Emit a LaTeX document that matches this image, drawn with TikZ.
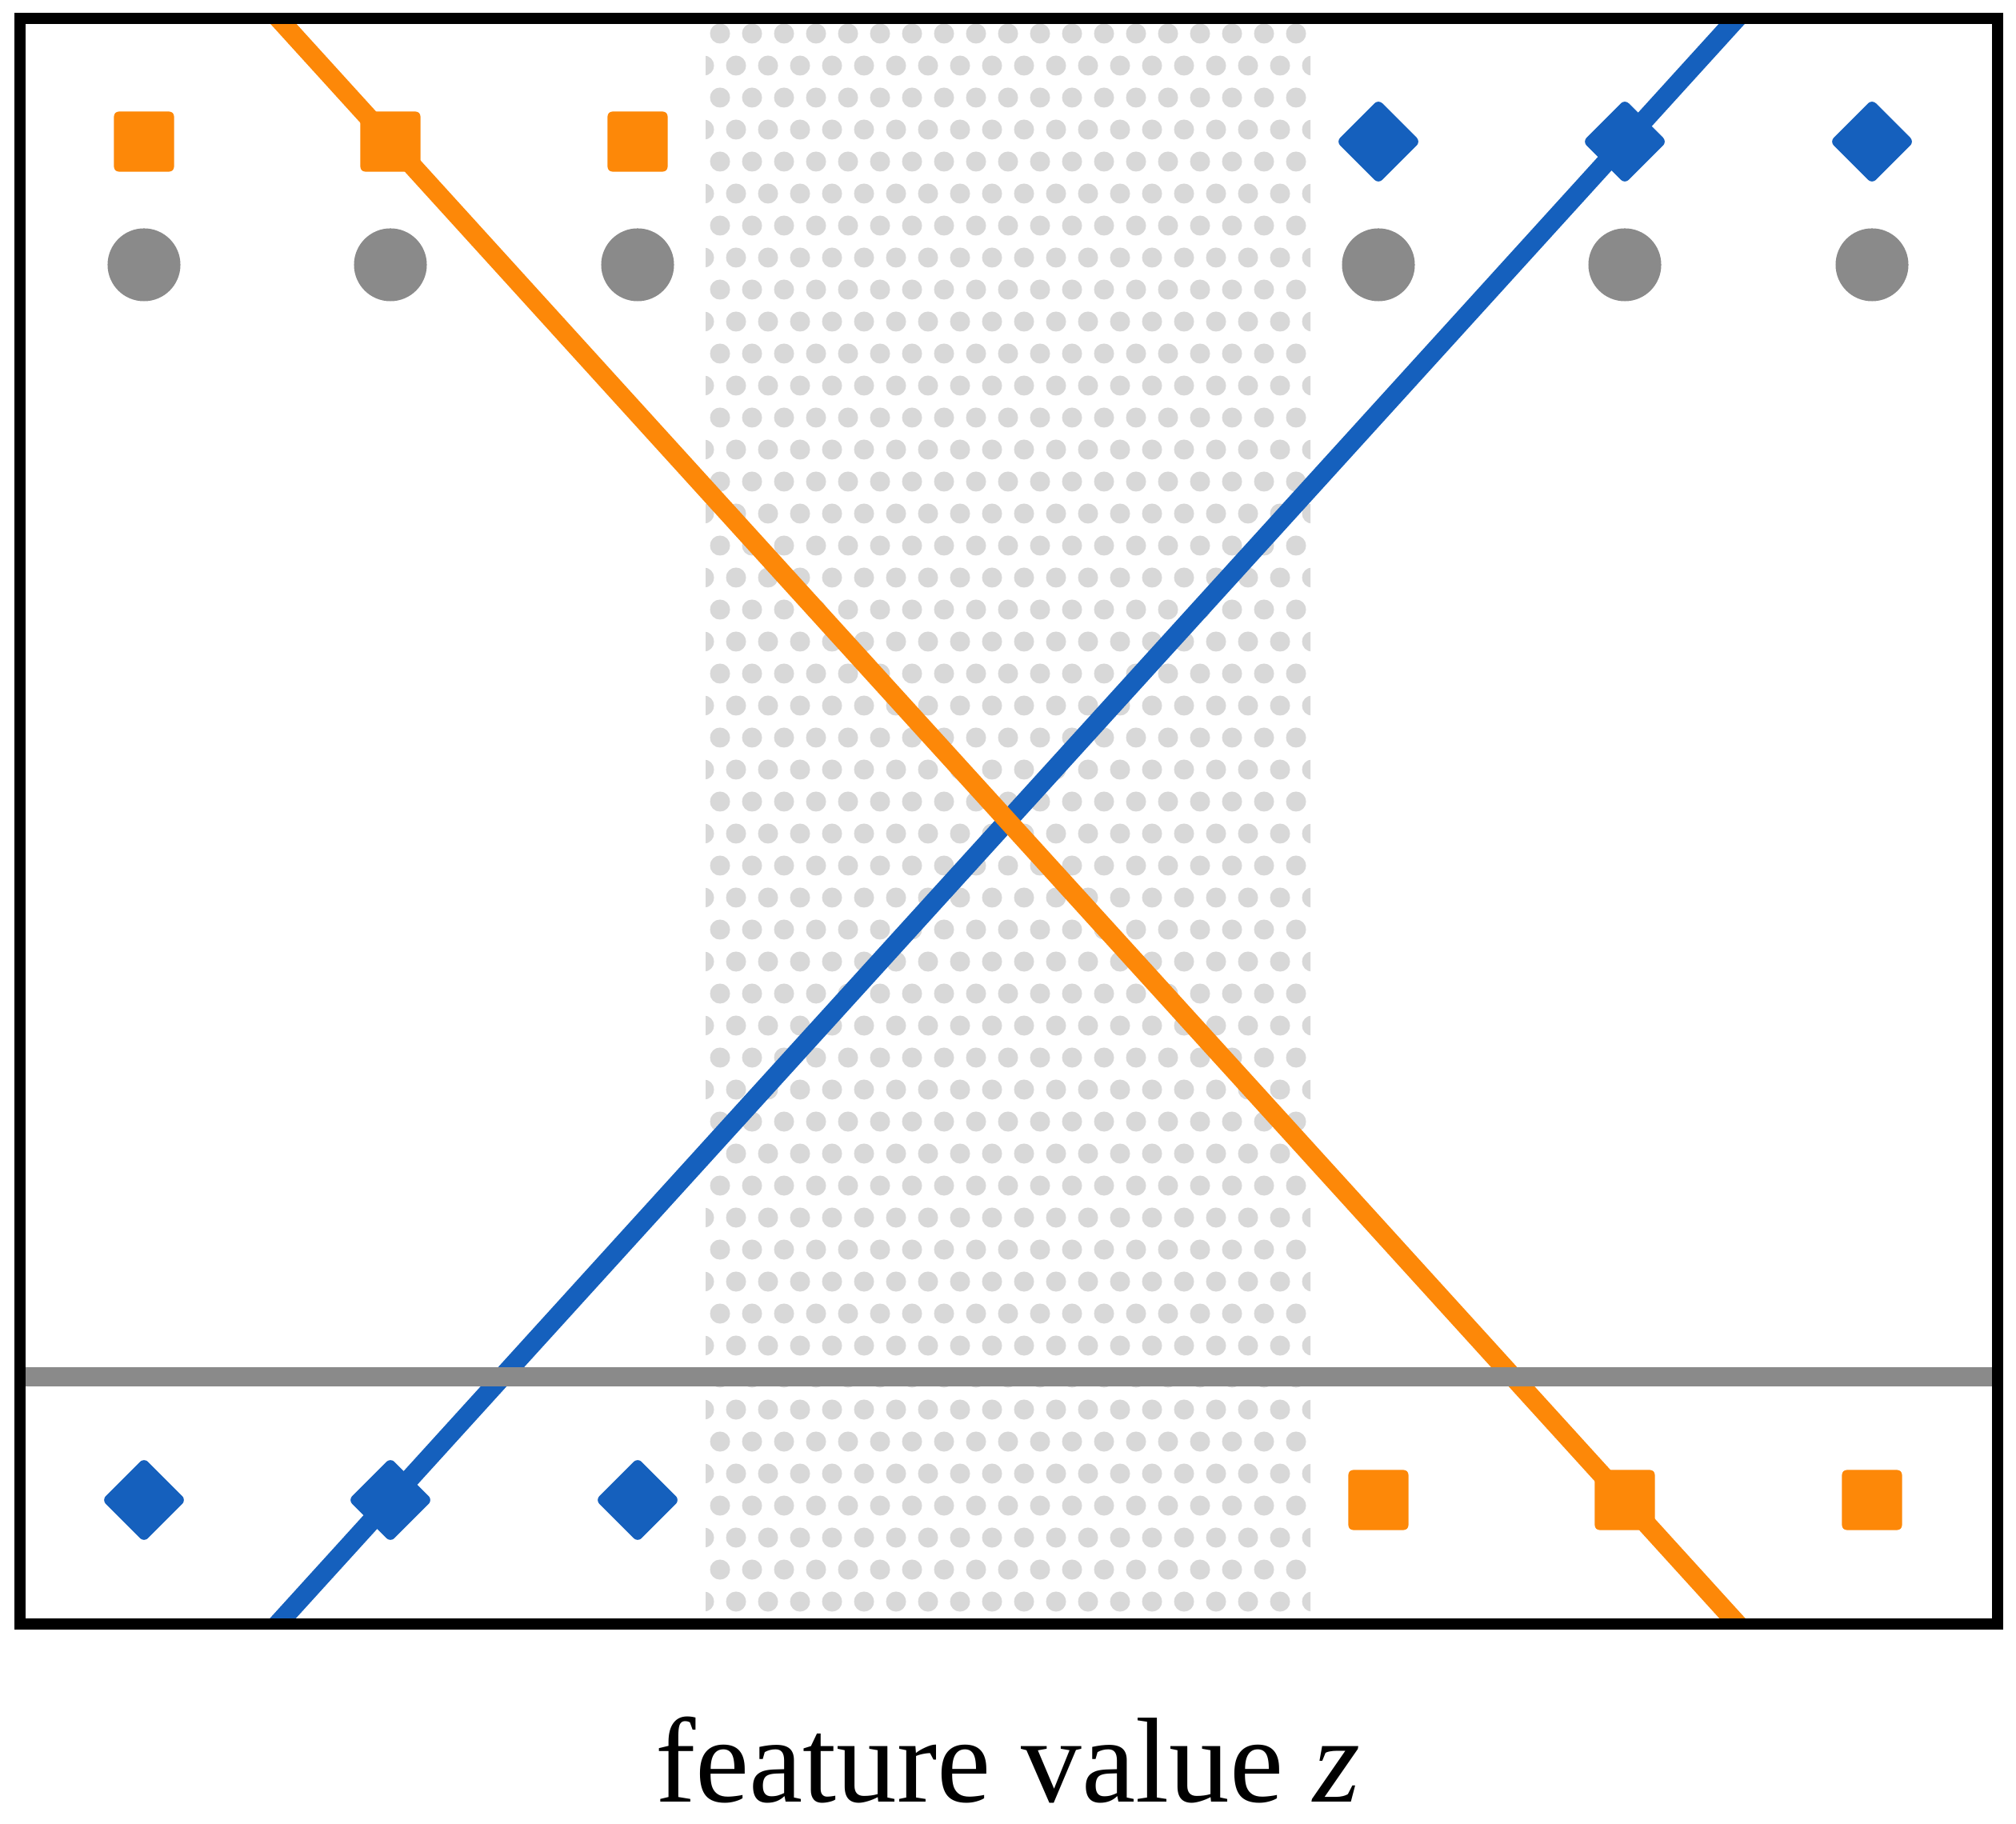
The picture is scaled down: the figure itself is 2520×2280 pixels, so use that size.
\documentclass[tikz,border=0pt]{standalone}
\usepackage{fontspec}
\setmainfont{Liberation Serif}
\usetikzlibrary{shapes.geometric,calc}
\definecolor{myorange}{RGB}{253,136,8}
\definecolor{myblue}{RGB}{21,96,189}
\definecolor{mygray}{RGB}{138,138,138}
\definecolor{dotc}{RGB}{216,216,216}
\pgfdeclarelayer{bg}
\pgfdeclarelayer{mid}
\pgfsetlayers{bg,mid,main}
\begin{document}
\begin{tikzpicture}[x=0.01cm,y=-0.01cm,
  osq/.style={rectangle,fill=myorange,draw=none,minimum size=0.75cm,inner sep=0pt,rounded corners=0.06cm},
  bdia/.style={diamond,fill=myblue,draw=none,minimum size=1.06cm,inner sep=0pt,rounded corners=0.07cm},
  gdot/.style={circle,fill=mygray,draw=none,minimum size=0.91cm,inner sep=0pt},
  oline/.style={draw=myorange,line width=0.24cm},
  bline/.style={draw=myblue,line width=0.24cm},
  gline/.style={draw=mygray,line width=0.24cm},
  frame/.style={draw=black,line width=0.14cm}]
\begin{pgfonlayer}{bg}
\fill[white] (0,0) rectangle (2520,2280);
\end{pgfonlayer}
\useasboundingbox (0,0) rectangle (2520,2280);
% markers
\node[osq] (o1) at (180,177) {};
\node[osq] (o2) at (488,177) {};
\node[osq] (o3) at (797,177) {};
\node[bdia] (b4) at (1723,177) {};
\node[bdia] (b5) at (2031,177) {};
\node[bdia] (b6) at (2340,177) {};
\node[gdot] (g1) at (180,331) {};
\node[gdot] (g2) at (488,331) {};
\node[gdot] (g3) at (797,331) {};
\node[gdot] (g4) at (1723,331) {};
\node[gdot] (g5) at (2031,331) {};
\node[gdot] (g6) at (2340,331) {};
\node[bdia] (b1) at (180,1875) {};
\node[bdia] (b2) at (488,1875) {};
\node[bdia] (b3) at (797,1875) {};
\node[osq] (o4) at (1723,1875) {};
\node[osq] (o5) at (2031,1875) {};
\node[osq] (o6) at (2340,1875) {};
% dotted band
\begin{pgfonlayer}{bg}
\begin{scope}
\clip (882,30) rectangle (1638,2023);
\foreach \r in {0,...,49}{
  \pgfmathtruncatemacro\yy{42+40*\r}
  \ifodd\r
    \foreach \c in {0,...,19} \fill[dotc] ({880+40*\c},\yy) circle[radius=0.125cm];
  \else
    \foreach \c in {0,...,18} \fill[dotc] ({900+40*\c},\yy) circle[radius=0.125cm];
  \fi
}
\end{scope}
\end{pgfonlayer}
% crossing lines
\begin{pgfonlayer}{mid}
\begin{scope}
\clip (25,23) rectangle (2497,2030);
\draw[bline] ($(b2.center)!-1!(b5.center)$) -- ($(b2.center)!2!(b5.center)$);
\draw[oline] ($(o2.center)!-1!(o5.center)$) -- ($(o2.center)!2!(o5.center)$);
\end{scope}
\end{pgfonlayer}
% threshold line
\coordinate (gl) at (25,1721);
\coordinate (gr) at (2497,1721);
\draw[gline] (gl) -- (gr);
% frame
\draw[frame] (25,23) rectangle (2497,2030);
% label
\node[anchor=base,inner sep=0pt,font=\fontsize{43}{50}\selectfont] (lbl) at (1260,2252) {feature value \textit{z}};
\end{tikzpicture}
\end{document}
